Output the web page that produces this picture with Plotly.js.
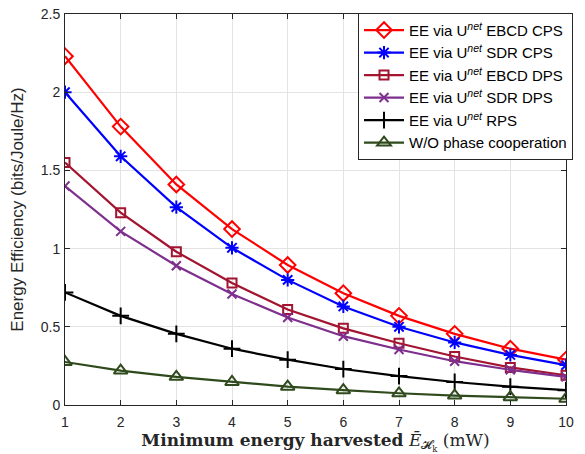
<!DOCTYPE html>
<html><head><meta charset="utf-8">
<script src="https://cdn.plot.ly/plotly-3.0.1.min.js"></script>
<style>body{margin:0;padding:0;background:#fff}#c{width:585px;height:454px}</style>
</head><body><div id="c"></div>
<script>
const xVals = [1,2,3,4,5,6,7,8,9,10];
const ebcdCps = [2.23,1.78,1.41,1.125,0.895,0.715,0.57,0.455,0.36,0.29];
const sdrCps  = [2.00,1.59,1.265,1.005,0.80,0.63,0.50,0.40,0.32,0.255];
const ebcdDps = [1.55,1.23,0.98,0.78,0.61,0.49,0.395,0.31,0.24,0.19];
const sdrDps  = [1.40,1.11,0.89,0.71,0.56,0.44,0.355,0.28,0.225,0.18];
const rps     = [0.72,0.57,0.455,0.36,0.29,0.23,0.185,0.147,0.117,0.095];
const woPhase = [0.275,0.22,0.18,0.147,0.117,0.095,0.075,0.06,0.05,0.04];
const names = [
  'EE via U<sup><i>net</i></sup> EBCD CPS',
  'EE via U<sup><i>net</i></sup> SDR CPS',
  'EE via U<sup><i>net</i></sup> EBCD DPS',
  'EE via U<sup><i>net</i></sup> SDR DPS',
  'EE via U<sup><i>net</i></sup> RPS',
  'W/O phase cooperation'
];
const series = [ebcdCps, sdrCps, ebcdDps, sdrDps, rps, woPhase];
const colors = ['#ff0000','#0000ff','#a2142f','#7e2f8e','#000000','#2f4a1c'];
const symbols = ['diamond-open','asterisk-open','square-open','x-thin-open','cross-thin-open','triangle-up-open'];
const sizes = [12,11,9,9,12,12];
const traces = series.map((s,i)=>({
  x: xVals, y: s, name: names[i], type:'scatter', mode:'lines+markers',
  line:{color:colors[i], width:2.2},
  marker:{symbol:symbols[i], size:sizes[i], color:colors[i], line:{color:colors[i], width:2}}
}));
const axisCommon = {
  showline:true, linecolor:'#262626', linewidth:1, mirror:'ticks',
  ticks:'inside', ticklen:5, tickcolor:'#262626',
  showgrid:true, gridcolor:'#e3e3e3', gridwidth:1, zeroline:false,
  tickfont:{family:'Liberation Sans, Arial, sans-serif', size:14, color:'#262626'}
};
const layout = {
  width:585, height:454,
  margin:{l:65, r:14, t:14, b:49},
  paper_bgcolor:'#fff', plot_bgcolor:'#fff',
  showlegend:true,
  legend:{x:1.014, xanchor:'right', y:1.003, yanchor:'top',
    bgcolor:'#fff', bordercolor:'#262626', borderwidth:1,
    font:{family:'Liberation Sans, Arial, sans-serif', size:15, color:'#000'},
    tracegroupgap:0, itemwidth:40},
  xaxis: Object.assign({}, axisCommon, {range:[1,10], tickvals:xVals, ticktext:xVals.map(String),
    ticklabelstandoff:4,
    title:{text:'<b>Minimum energy harvested</b> <i>Ē</i><sub>𝓗<sub>k</sub></sub> (mW)', standoff:5,
      font:{family:'DejaVu Serif, Liberation Serif, serif', size:17, color:'#262626'}}}),
  yaxis: Object.assign({}, axisCommon, {range:[0,2.5], dtick:0.5, tickvals:[0,0.5,1,1.5,2,2.5], ticktext:['0','0.5','1','1.5','2','2.5'],
    ticklabelstandoff:1,
    title:{text:'Energy Efficiency (bits/Joule/Hz)', standoff:12,
      font:{family:'Liberation Sans, Arial, sans-serif', size:17, color:'#262626'}}})
};
Plotly.newPlot('c', traces, layout, {displayModeBar:false, staticPlot:true});
</script></body></html>
